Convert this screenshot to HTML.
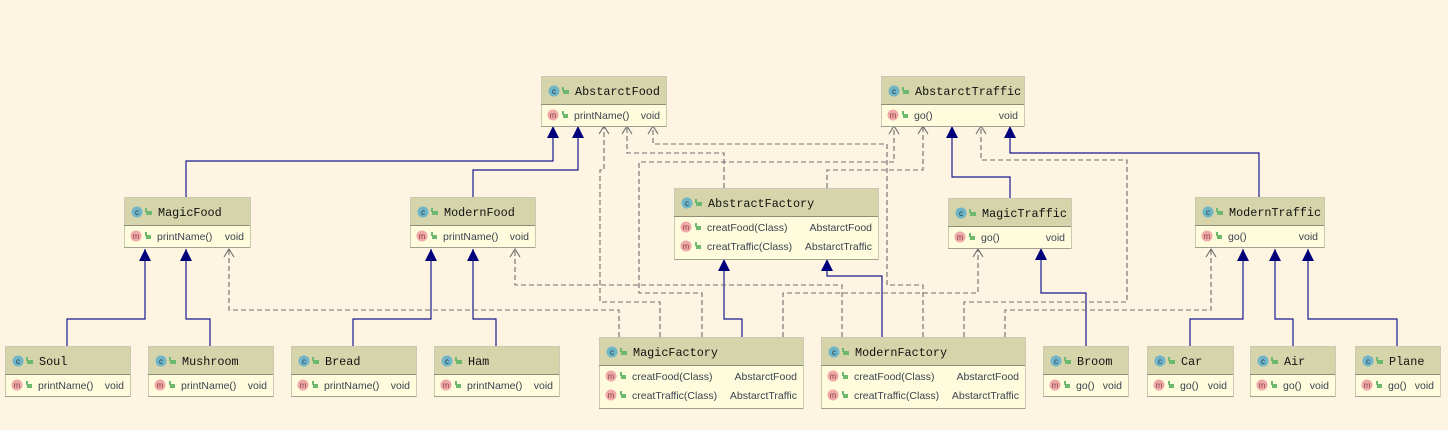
<!DOCTYPE html>
<html><head><meta charset="utf-8"><style>
html,body{margin:0;padding:0;background:#fdf5e2;}
svg{display:block}
.h{font-family:"Liberation Mono",monospace;font-size:11.8px;fill:#111}
.m{font-family:"Liberation Sans",sans-serif;font-size:10.5px;fill:#3c4450}
</style></head><body>
<svg id="s" width="1448" height="430" xmlns="http://www.w3.org/2000/svg"></svg>
<script>
const s=document.getElementById('s');let o='';
const boxes=[
['AbstarctFood',541,76,125,[['printName()','void']]],
['AbstarctTraffic',881,76,143,[['go()','void']]],
['MagicFood',124,197,126,[['printName()','void']]],
['ModernFood',410,197,125,[['printName()','void']]],
['AbstractFactory',674,188,204,[['creatFood(Class)','AbstarctFood'],['creatTraffic(Class)','AbstarctTraffic']]],
['MagicTraffic',948,198,123,[['go()','void']]],
['ModernTraffic',1195,197,129,[['go()','void']]],
['Soul',5,346,125,[['printName()','void']]],
['Mushroom',148,346,125,[['printName()','void']]],
['Bread',291,346,125,[['printName()','void']]],
['Ham',434,346,125,[['printName()','void']]],
['MagicFactory',599,337,204,[['creatFood(Class)','AbstarctFood'],['creatTraffic(Class)','AbstarctTraffic']]],
['ModernFactory',821,337,204,[['creatFood(Class)','AbstarctFood'],['creatTraffic(Class)','AbstarctTraffic']]],
['Broom',1043,346,85,[['go()','void']]],
['Car',1147,346,86,[['go()','void']]],
['Air',1250,346,85,[['go()','void']]],
['Plane',1355,346,85,[['go()','void']]],
];
function dash(pts){o+=`<polyline points="${pts.map(p=>p.join(',')).join(' ')}" fill="none" stroke="#6e6e6e" stroke-width="1.1" stroke-dasharray="5,3"/>`;const [x,y]=pts[pts.length-1];o+=`<polyline points="${x-5},${y+8} ${x},${y} ${x+5},${y+8}" fill="none" stroke="#6e6e6e" stroke-width="1.1"/>`;}
function sol(pts){o+=`<polyline points="${pts.map(p=>p.join(',')).join(' ')}" fill="none" stroke="#1a1a90" stroke-width="1.2"/>`;const [x,y]=pts[pts.length-1];o+=`<polygon points="${x-6},${y+12} ${x},${y} ${x+6},${y+12}" fill="#00007a"/>`;}
sol([[186,197],[186,161],[553,161],[553,126]]);
sol([[473,197],[473,170],[578,170],[578,126]]);
sol([[67,346],[67,319],[145,319],[145,249]]);
sol([[210,346],[210,319],[186,319],[186,249]]);
sol([[353,346],[353,319],[431,319],[431,249]]);
sol([[496,346],[496,319],[473,319],[473,249]]);
sol([[742,337],[742,319],[724,319],[724,259]]);
sol([[882,337],[882,276],[827,276],[827,259]]);
sol([[1010,198],[1010,177],[952,177],[952,126]]);
sol([[1259,197],[1259,153],[1010,153],[1010,126]]);
sol([[1086,346],[1086,293],[1041,293],[1041,248]]);
sol([[1190,346],[1190,319],[1243,319],[1243,249]]);
sol([[1293,346],[1293,319],[1275,319],[1275,249]]);
sol([[1397,346],[1397,319],[1308,319],[1308,249]]);
dash([[660,337],[660,302],[600,302],[600,170],[604,170],[604,126]]);
dash([[619,337],[619,310],[229,310],[229,249]]);
dash([[724,188],[724,153],[627,153],[627,126]]);
dash([[923,337],[923,285],[887,285],[887,144],[653,144],[653,126]]);
dash([[702,337],[702,293],[639,293],[639,162],[894,162],[894,126]]);
dash([[827,188],[827,170],[923,170],[923,126]]);
dash([[842,337],[842,285],[515,285],[515,249]]);
dash([[783,337],[783,293],[978,293],[978,249]]);
dash([[964,337],[964,302],[1127,302],[1127,160],[981,160],[981,126]]);
dash([[1005,337],[1005,310],[1211,310],[1211,249]]);
for(const [n,x,y,w,ms] of boxes){
 const bh=ms.length==1?22:43, H=28;
 o+=`<rect x="${x+0.5}" y="${y+0.5}" width="${w}" height="${H+bh}" fill="#fefcdc" stroke="#c9c9b4"/>`;
 o+=`<rect x="${x+1}" y="${y+1}" width="${w-1}" height="${H-1}" fill="#d5d4aa"/>`;
 o+=`<line x1="${x}" y1="${y+H+0.5}" x2="${x+w}" y2="${y+H+0.5}" stroke="#8e8e78"/>`;
 o+=`<line x1="${x}" y1="${y+H+bh+0.5}" x2="${x+w}" y2="${y+H+bh+0.5}" stroke="#a0a090"/>`;
 o+=`<circle cx="${x+13}" cy="${y+15}" r="5.5" fill="#6fb5c8"/><text x="${x+13}" y="${y+18}" font-family="Liberation Sans" font-size="8" text-anchor="middle" fill="#234">c</text>`;
 o+=`<rect x="${x+22}" y="${y+14}" width="6" height="4" fill="#6cb86c"/><rect x="${x+21}" y="${y+11}" width="2" height="4" fill="#6cb86c"/>`;
 o+=`<text class="h" x="${x+34}" y="${y+19}">${n}</text>`;
 ms.forEach(([a,b],i)=>{const cy=y+H+11+i*19;
  o+=`<circle cx="${x+12}" cy="${cy}" r="5.5" fill="#f0a8a8"/><text x="${x+12}" y="${cy+3}" font-family="Liberation Sans" font-size="8" text-anchor="middle" fill="#844">m</text>`;
  o+=`<rect x="${x+22}" y="${cy-1}" width="5" height="4" fill="#6cb86c"/><rect x="${x+21}" y="${cy-4}" width="2" height="4" fill="#6cb86c"/>`;
  o+=`<text class="m" x="${x+33}" y="${cy+4}">${a}</text><text class="m" x="${x+w-6}" y="${cy+4}" text-anchor="end">${b}</text>`;});
}
s.innerHTML=o;
</script>
</body></html>
